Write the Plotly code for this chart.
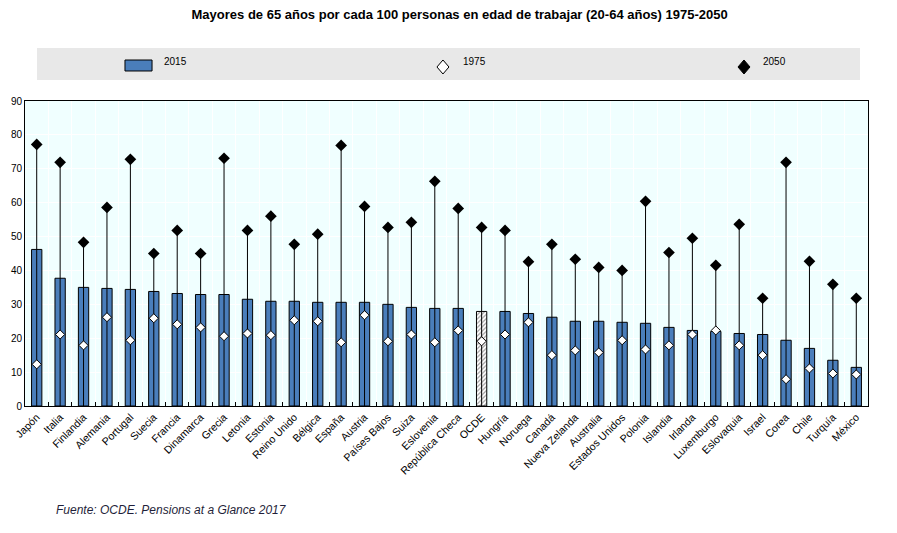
import plotly.graph_objects as go

countries = ["Japón", "Italia", "Finlandia", "Alemania", "Portugal", "Suecia", "Francia",
             "Dinamarca", "Grecia", "Letonia", "Estonia", "Reino Unido", "Bélgica", "España",
             "Austria", "Países Bajos", "Suiza", "Eslovenia", "República Checa", "OCDE",
             "Hungría", "Noruega", "Canadá", "Nueva Zelanda", "Australia", "Estados Unidos",
             "Polonia", "Islandia", "Irlanda", "Luxemburgo", "Eslovaquia", "Israel", "Corea",
             "Chile", "Turquía", "México"]

v2015 = [46.2, 37.7, 35.0, 34.7, 34.4, 33.8, 33.2, 32.9, 32.9, 31.5, 30.9, 30.9, 30.6, 30.6,
         30.6, 30.0, 29.1, 28.8, 28.8, 27.9, 27.9, 27.3, 26.2, 25.0, 25.0, 24.7, 24.4, 23.2,
         22.3, 22.0, 21.4, 21.1, 19.4, 17.0, 13.5, 11.4]
v1975 = [12.3, 21.1, 17.9, 26.2, 19.4, 25.9, 24.1, 23.2, 20.6, 21.4, 20.9, 25.3, 25.0, 18.8,
         26.8, 19.1, 21.1, 18.8, 22.3, 19.1, 21.1, 24.7, 15.0, 16.4, 15.8, 19.4, 16.7, 17.9,
         21.1, 22.3, 17.9, 15.0, 7.9, 11.1, 9.6, 9.3]
v2050 = [77.2, 71.9, 48.3, 58.6, 72.8, 45.0, 51.8, 45.0, 73.1, 51.8, 56.0, 47.7, 50.7, 76.9,
         58.9, 52.7, 54.2, 66.3, 58.3, 52.7, 51.8, 42.6, 47.7, 43.3, 40.9, 40.0, 60.4, 45.3,
         49.5, 41.5, 53.6, 31.8, 71.9, 42.7, 35.9, 31.8]

legend_labels = ["2015", "1975", "2050"]
title = "Mayores de 65 años por cada 100 personas en edad de trabajar (20-64 años) 1975-2050"
source = "Fuente: OCDE. Pensions at a Glance 2017"

BLUE = "#4A7EBB"
bar_colors = ["white" if c == "OCDE" else BLUE for c in countries]
bar_shapes = ["/" if c == "OCDE" else "" for c in countries]

fig = go.Figure()
fig.add_trace(go.Bar(
    x=countries, y=v2015, name=legend_labels[0],
    marker=dict(color=bar_colors, line=dict(color="black", width=1),
                pattern=dict(shape=bar_shapes, fgcolor="black", size=3, solidity=0.4)),
))
# vertical lines from 0 to the 2050 value
fig.add_trace(go.Scatter(
    x=countries, y=v2050, mode="markers", marker=dict(size=1, opacity=0),
    error_y=dict(type="data", symmetric=False, array=[0] * len(v2050), arrayminus=v2050,
                 color="black", thickness=1, width=0),
    hoverinfo="skip",
))
fig.add_trace(go.Scatter(
    x=countries, y=v1975, mode="markers", name=legend_labels[1],
    marker=dict(symbol="diamond", size=7, color="white", line=dict(color="black", width=1)),
))
fig.add_trace(go.Scatter(
    x=countries, y=v2050, mode="markers", name=legend_labels[2],
    marker=dict(symbol="diamond", size=9, color="black", line=dict(color="black", width=0)),
))

FONT = "Liberation Sans Narrow, Arial Narrow, Liberation Sans, Arial, sans-serif"

# manual legend (paper coordinates)
ly = 1.1115
diamond = "M0,7 L6,0 L0,-7 L-6,0 Z"
shapes = [
    dict(type="rect", xref="paper", yref="paper", x0=0.0142, x1=0.9905,
         y0=1.069, y1=1.174, fillcolor="#E8E8E8", line=dict(width=0), layer="below"),
    dict(type="rect", xref="paper", yref="paper", x0=0.1186, x1=0.1507,
         y0=1.0984, y1=1.1344, fillcolor=BLUE, line=dict(color="black", width=1)),
    dict(type="path", xref="paper", yref="paper", xsizemode="pixel", ysizemode="pixel",
         xanchor=0.4958, yanchor=ly, path=diamond, fillcolor="white",
         line=dict(color="black", width=1)),
    dict(type="path", xref="paper", yref="paper", xsizemode="pixel", ysizemode="pixel",
         xanchor=0.8529, yanchor=ly, path=diamond, fillcolor="black",
         line=dict(color="black", width=1)),
]
annotations = [
    dict(text=lab, xref="paper", yref="paper", x=xx, y=1.128, xanchor="left",
         yanchor="middle", showarrow=False, font=dict(family=FONT, size=10, color="black"))
    for lab, xx in zip(legend_labels, [0.1625, 0.5172, 0.8731])
]
annotations.append(dict(text="<i>" + source + "</i>", xref="paper", yref="paper",
                        x=(54 - 25) / 843, y=(406 - 510) / 305, xanchor="left",
                        yanchor="middle", showarrow=False,
                        font=dict(family="Liberation Sans, Arial", size=12, color="#1F1F3A")))

fig.update_layout(
    width=889, height=525,
    margin=dict(l=17, r=29, t=93, b=127, autoexpand=False),
    paper_bgcolor="white",
    plot_bgcolor="#F0FFFF",
    font=dict(family="Liberation Sans, Arial, sans-serif", size=10, color="black"),
    title=dict(text="<b>" + title + "</b>", x=0.508, xanchor="center", y=0.987, yanchor="middle",
               font=dict(family=FONT, size=13, color="black")),
    bargap=0.56,
    showlegend=False,
    shapes=shapes,
    annotations=annotations,
)
fig.update_xaxes(
    tickangle=-45, tickson="boundaries", ticks="inside", ticklen=4, tickcolor="black",
    showgrid=True, gridcolor="white", gridwidth=1, automargin=False,
    showline=True, linecolor="black", linewidth=1, mirror=True,
    tickfont=dict(size=10.6), range=[-0.5, len(countries) - 0.5],
)
fig.update_yaxes(
    range=[0, 90], dtick=10, showgrid=True, gridcolor="white", gridwidth=1,
    showline=True, linecolor="black", linewidth=1, mirror=True, zeroline=False,
    ticks="", tickfont=dict(size=10), automargin=False,
)

fig.write_html("out.html")
